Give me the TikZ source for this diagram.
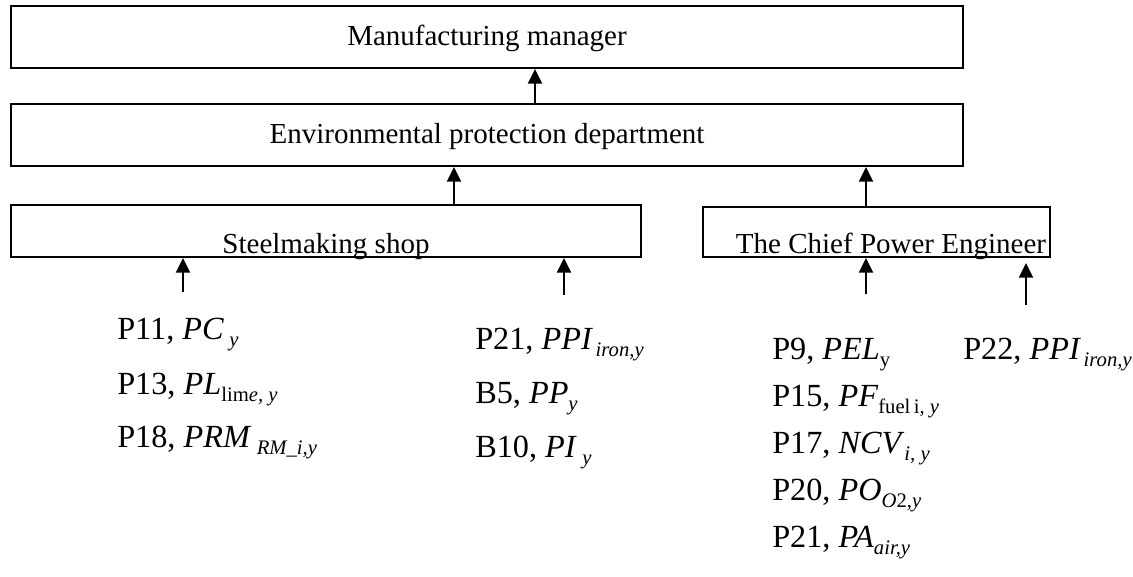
\documentclass[tikz,border=0pt]{standalone}
\usepackage{fontspec}
\setmainfont{Liberation Serif}
\usetikzlibrary{arrows.meta}
\newcommand\mi[1]{\textit{#1}}
\newcommand\lsub[1]{\raisebox{-5.5pt}{\fontsize{15.5pt}{16pt}\selectfont #1}}
\tikzset{
  box/.style={draw, line width=1.4pt, inner sep=0pt},
  boxtext/.style={anchor=base, inner sep=0pt, font=\fontsize{21.75pt}{22pt}\selectfont},
  lab/.style={anchor=base west, inner sep=0pt, font=\fontsize{24.2pt}{25pt}\selectfont},
  arr/.style={line width=1.5pt, -{Triangle[length=11pt,width=10.5pt]}}
}
\begin{document}
\begin{tikzpicture}[x=0.75pt,y=-0.75pt]
\useasboundingbox (0,0) rectangle (1133,576);
% boxes
\node[box, minimum width=952*0.75pt, minimum height=62*0.75pt] (b1) at (487,37) {};
\node[box, minimum width=952*0.75pt, minimum height=62*0.75pt] (b2) at (487,135) {};
\node[box, minimum width=630*0.75pt, minimum height=52*0.75pt] (b3) at (326,231) {};
\node[box, minimum width=347*0.75pt, minimum height=50*0.75pt] (b4) at (876.5,232) {};
% box texts
\node[boxtext] (t1) at (487,45) {Manufacturing manager};
\node[boxtext] (t2) at (487,143) {Environmental protection department};
\node[boxtext] (t3) at (326,253) {Steelmaking shop};
\node[boxtext] (t4) at (891,253) {The Chief Power Engineer};
% connector x positions
\coordinate (xa) at (535,0);
\coordinate (xb) at (454,0);
\coordinate (xc) at (866,0);
\draw[arr] (xa |- b2.north) -- (xa |- b1.south);
\draw[arr] (xb |- b3.north) -- (xb |- b2.south);
\draw[arr] (xc |- b4.north) -- (xc |- b2.south);
% input arrows
\coordinate (i1) at (183,292);
\coordinate (i2) at (564,295);
\coordinate (i3) at (866,294);
\coordinate (i4) at (1026,305);
\coordinate (h4) at (1026,263);
\draw[arr] (i1) -- (i1 |- b3.south);
\draw[arr] (i2) -- (i2 |- b3.south);
\draw[arr] (i3) -- (i3 |- b4.south);
\draw[arr] (i4) -- (h4);
% labels column 1
\node[lab] (p11) at (117,339) {P11, \mi{PC}\,\lsub{\mi{y}}};
\node[lab] (p13) at (117,394) {P13, \mi{PL}\lsub{lim\mi{e, y}}};
\node[lab] (p18) at (117,447) {P18, \mi{PRM}\,\lsub{\mi{RM\_i,y}}};
% column 2
\node[lab] (p21a) at (475,349) {P21, \mi{PPI}\kern2pt\lsub{\mi{iron,y}}};
\node[lab] (b5) at (475,403) {B5, \mi{PP}\lsub{\mi{y}}};
\node[lab] (b10) at (475,457) {B10, \mi{PI}\,\lsub{\mi{y}}};
% column 3
\node[lab] (p9) at (772,359) {P9, \mi{PEL}\lsub{y}};
\node[lab] (p15) at (772,406) {P15, \mi{PF}\lsub{fuel\,i, \mi{y}}};
\node[lab] (p17) at (772,453) {P17, \mi{NCV}\lsub{\mi{i, y}}};
\node[lab] (p20) at (772,500) {P20, \mi{PO}\lsub{\mi{O}2,\mi{y}}};
\node[lab] (p21b) at (772,547) {P21, \mi{PA}\lsub{\mi{air,y}}};
% column 4
\node[lab] (p22) at (963,359) {P22, \mi{PPI}\kern2pt\lsub{\mi{iron,y}}};
\end{tikzpicture}
\end{document}
